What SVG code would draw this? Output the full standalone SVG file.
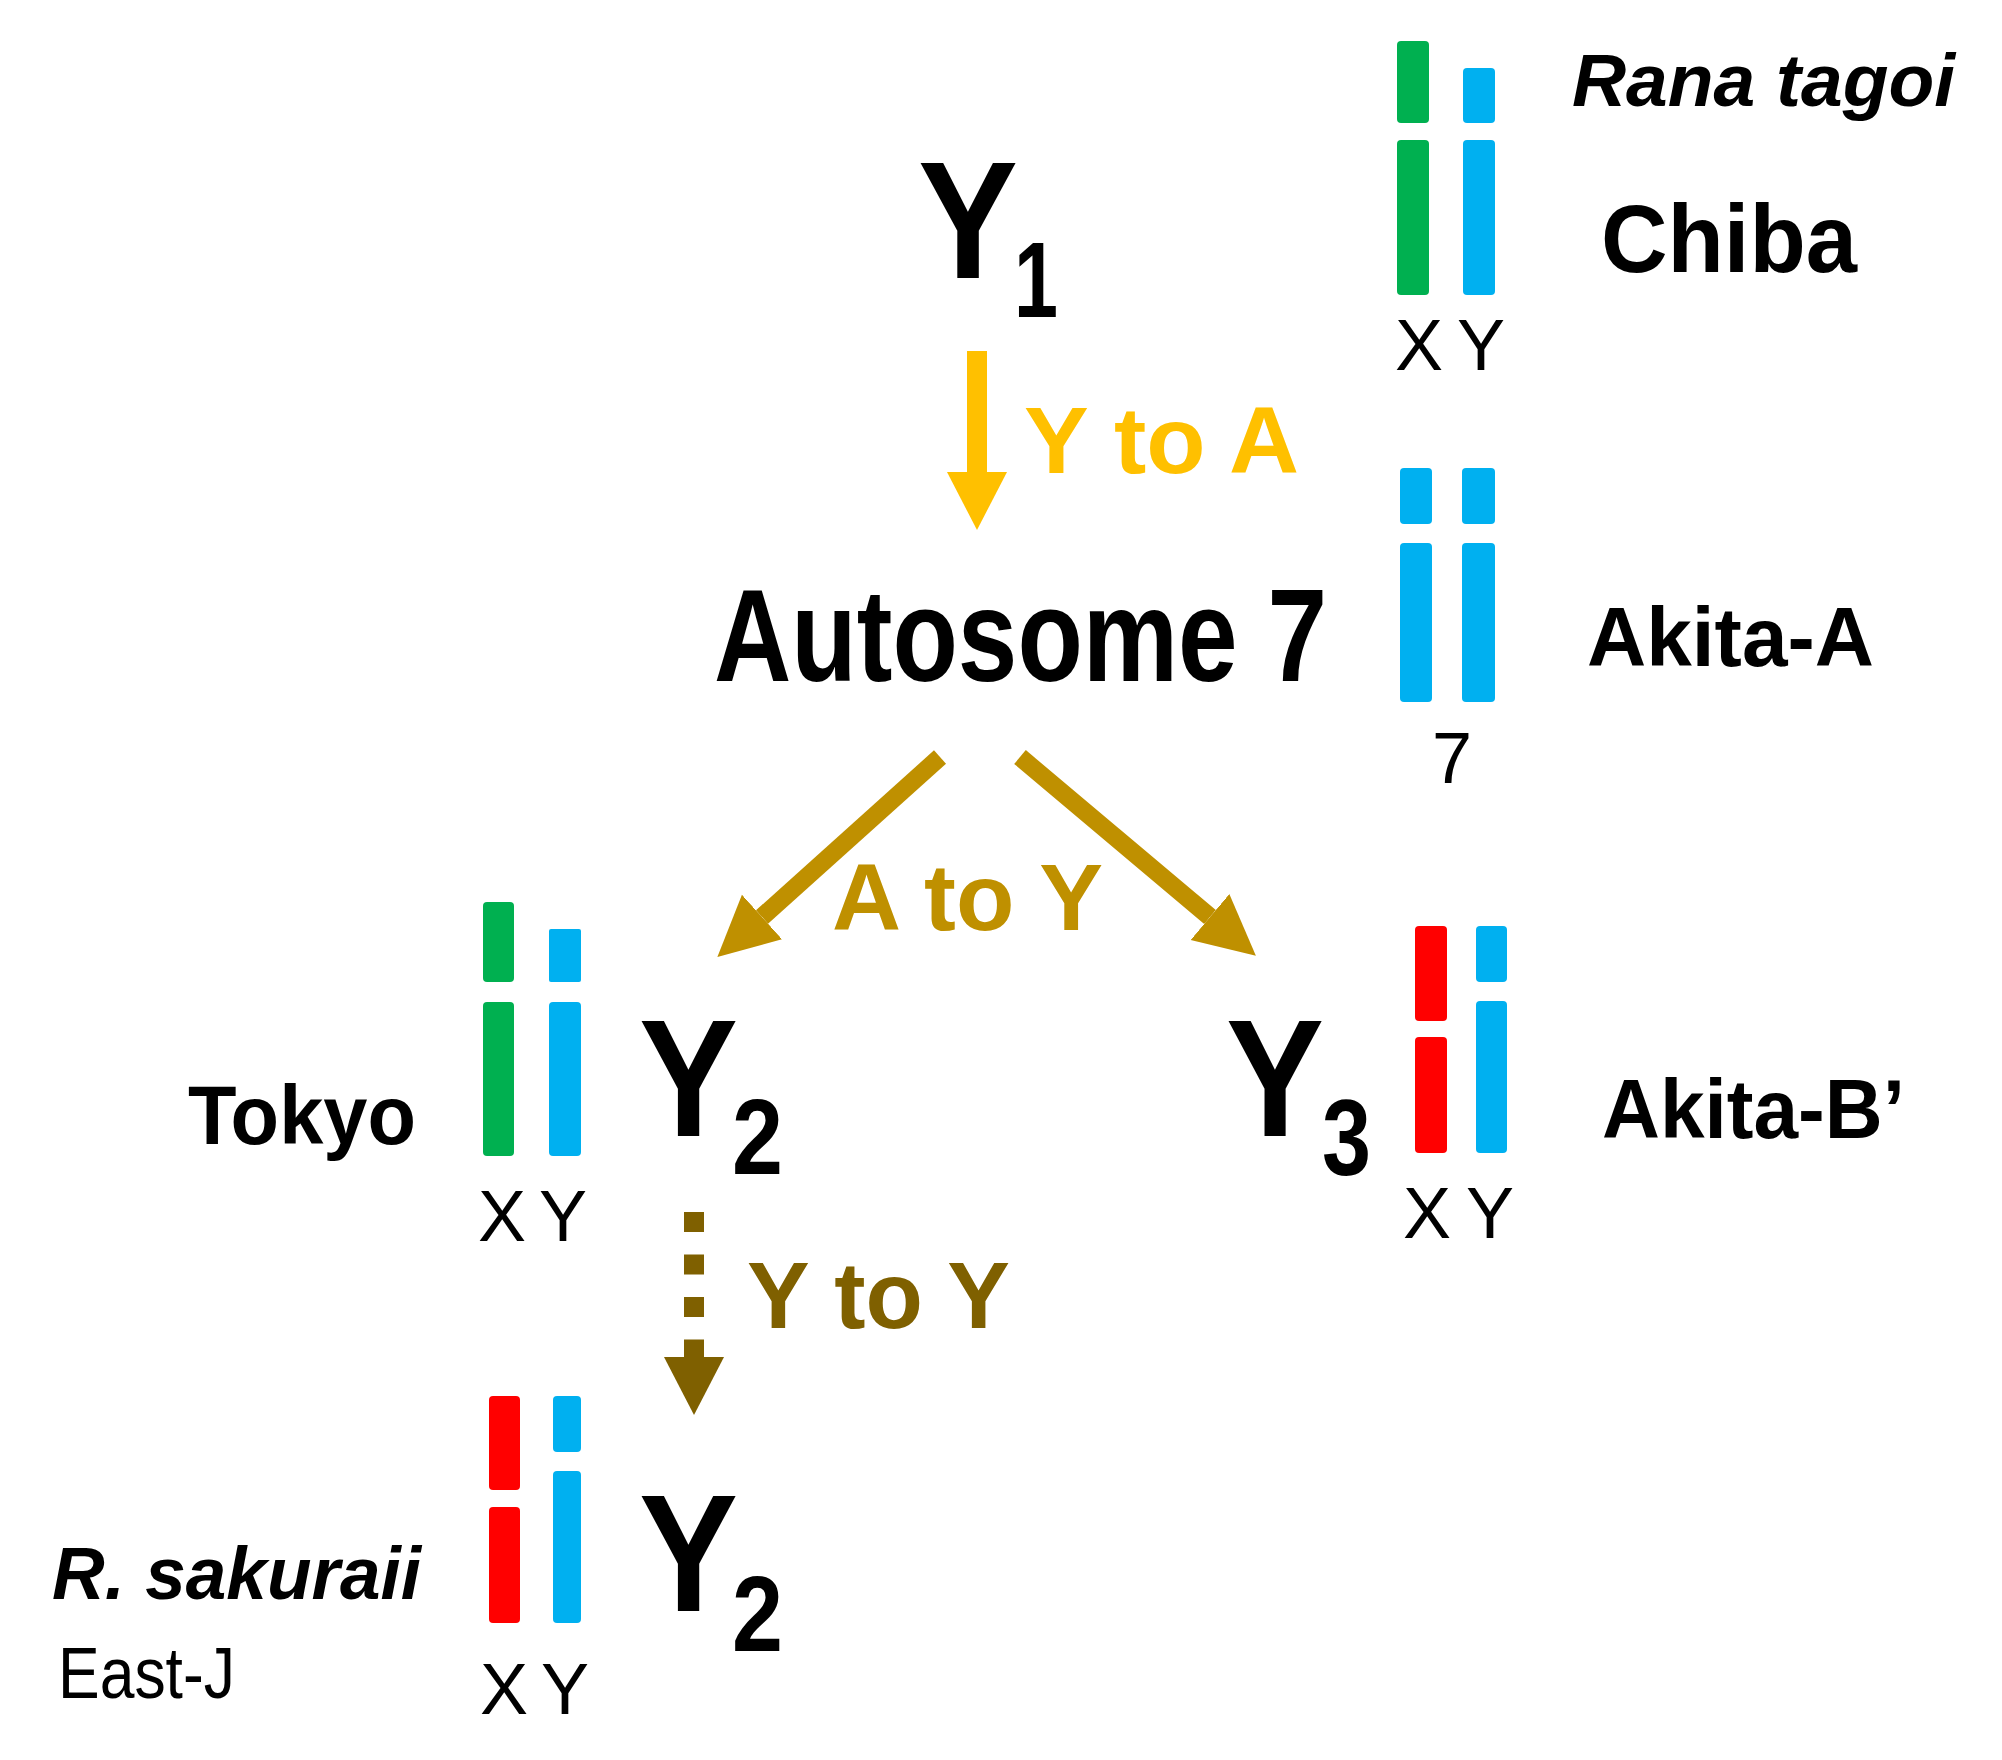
<svg xmlns="http://www.w3.org/2000/svg" width="2002" height="1760" viewBox="0 0 2002 1760">
<style>
text{font-family:"Liberation Sans",Arial,sans-serif;fill:#000}
.b{font-weight:bold}
.bi{font-weight:bold;font-style:italic}
.xy{font-size:72px;text-anchor:middle}
.big{font-size:167px;font-weight:bold}
.sub{font-size:107px;font-weight:bold}
.lab{font-size:84px;font-weight:bold}
.g{fill:#00B050}.c{fill:#00B0F0}.r{fill:#FF0000}
.yl{stroke:#FFC000;stroke-width:20;fill:none}
.gd{stroke:#BF9000;stroke-width:18;fill:none}
.br{stroke:#7F6000;stroke-width:20;fill:none;stroke-dasharray:20 22.5}
</style>
<defs>
<marker id="hy" markerUnits="userSpaceOnUse" markerWidth="60" markerHeight="62" refX="0" refY="31" orient="auto" viewBox="0 0 60 62"><path d="M0,1 L58,31 L0,61 z" fill="#FFC000"/></marker>
<marker id="hg" markerUnits="userSpaceOnUse" markerWidth="62" markerHeight="62" refX="0" refY="31" orient="auto" viewBox="0 0 62 62"><path d="M0,1 L60,31 L0,61 z" fill="#BF9000"/></marker>
<marker id="hb" markerUnits="userSpaceOnUse" markerWidth="60" markerHeight="62" refX="0" refY="31" orient="auto" viewBox="0 0 60 62"><path d="M0,1 L58,31 L0,61 z" fill="#7F6000"/></marker>
</defs>
<rect width="2002" height="1760" fill="#fff"/>

<g id="connectors">
<line class="yl" x1="977" y1="351" x2="977" y2="472" marker-end="url(#hy)"/>
<line class="gd" x1="940" y1="757" x2="762" y2="917" marker-end="url(#hg)"/>
<line class="gd" x1="1020" y1="757" x2="1210" y2="917" marker-end="url(#hg)"/>
<line class="br" x1="694" y1="1212" x2="694" y2="1357" marker-end="url(#hb)"/>
<text class="b" x="1024" y="473" font-size="95" textLength="275" lengthAdjust="spacingAndGlyphs" style="fill:#FFC000">Y to A</text>
<text class="b" x="832" y="930" font-size="94" textLength="271" lengthAdjust="spacingAndGlyphs" style="fill:#BF9000">A to Y</text>
<text class="b" x="747" y="1328" font-size="95" textLength="263" lengthAdjust="spacingAndGlyphs" style="fill:#7F6000">Y to Y</text>
</g>

<g id="node-Y1">
<text class="big" x="918" y="278" textLength="100" lengthAdjust="spacingAndGlyphs">Y</text>
<text class="sub" x="1014" y="317" textLength="44" lengthAdjust="spacingAndGlyphs">1</text>
</g>

<g id="node-chiba">
<rect class="g" x="1397" y="41" width="32" height="82" rx="4"/>
<rect class="g" x="1397" y="140" width="32" height="155" rx="4"/>
<rect class="c" x="1463" y="68" width="32" height="55" rx="4"/>
<rect class="c" x="1463" y="140" width="32" height="155" rx="4"/>
<text class="xy" x="1419" y="370">X</text>
<text class="xy" x="1481" y="370">Y</text>
<text class="bi" x="1572" y="106" font-size="74" textLength="383" lengthAdjust="spacingAndGlyphs">Rana tagoi</text>
<text class="b" x="1601" y="272" font-size="96" textLength="256" lengthAdjust="spacingAndGlyphs">Chiba</text>
</g>

<g id="node-autosome7">
<text class="b" x="714" y="681" font-size="132" textLength="613" lengthAdjust="spacingAndGlyphs">Autosome 7</text>
</g>

<g id="node-akitaA">
<rect class="c" x="1400" y="468" width="32" height="56" rx="4"/>
<rect class="c" x="1400" y="543" width="32" height="159" rx="4"/>
<rect class="c" x="1462" y="468" width="33" height="56" rx="4"/>
<rect class="c" x="1462" y="543" width="33" height="159" rx="4"/>
<text class="xy" x="1452" y="783" font-size="75">7</text>
<text class="lab" x="1587" y="666" textLength="287" lengthAdjust="spacingAndGlyphs">Akita-A</text>
</g>

<g id="node-tokyo">
<rect class="g" x="483" y="902" width="31" height="80" rx="4"/>
<rect class="g" x="483" y="1002" width="31" height="154" rx="4"/>
<rect class="c" x="549" y="929" width="32" height="53" rx="2"/>
<rect class="c" x="549" y="1002" width="32" height="154" rx="4"/>
<text class="xy" x="502" y="1241">X</text>
<text class="xy" x="563" y="1241">Y</text>
<text class="lab" x="188" y="1144" font-size="83" textLength="228" lengthAdjust="spacingAndGlyphs">Tokyo</text>
<text class="big" x="639" y="1136" textLength="99" lengthAdjust="spacingAndGlyphs">Y</text>
<text class="sub" x="732" y="1174" textLength="51" lengthAdjust="spacingAndGlyphs">2</text>
</g>

<g id="node-Y3">
<text class="big" x="1226" y="1136" textLength="98" lengthAdjust="spacingAndGlyphs">Y</text>
<text class="sub" x="1322" y="1175" textLength="49" lengthAdjust="spacingAndGlyphs">3</text>
<rect class="r" x="1415" y="926" width="32" height="95" rx="4"/>
<rect class="r" x="1415" y="1037" width="32" height="116" rx="4"/>
<rect class="c" x="1476" y="926" width="31" height="56" rx="4"/>
<rect class="c" x="1476" y="1001" width="31" height="152" rx="4"/>
<text class="xy" x="1427" y="1238">X</text>
<text class="xy" x="1490" y="1238">Y</text>
<text class="lab" x="1602" y="1138" font-size="85" textLength="303" lengthAdjust="spacingAndGlyphs">Akita-B’</text>
</g>

<g id="node-sakuraii">
<rect class="r" x="489" y="1396" width="31" height="94" rx="4"/>
<rect class="r" x="489" y="1507" width="31" height="116" rx="4"/>
<rect class="c" x="553" y="1396" width="28" height="56" rx="4"/>
<rect class="c" x="553" y="1471" width="28" height="152" rx="4"/>
<text class="xy" x="504" y="1714">X</text>
<text class="xy" x="565" y="1714">Y</text>
<text class="bi" x="52" y="1599" font-size="74" textLength="369" lengthAdjust="spacingAndGlyphs">R. sakuraii</text>
<text x="58" y="1698" font-size="73" textLength="177" lengthAdjust="spacingAndGlyphs">East-J</text>
<text class="big" x="639" y="1611" textLength="99" lengthAdjust="spacingAndGlyphs">Y</text>
<text class="sub" x="732" y="1651" textLength="51" lengthAdjust="spacingAndGlyphs">2</text>
</g>
</svg>
